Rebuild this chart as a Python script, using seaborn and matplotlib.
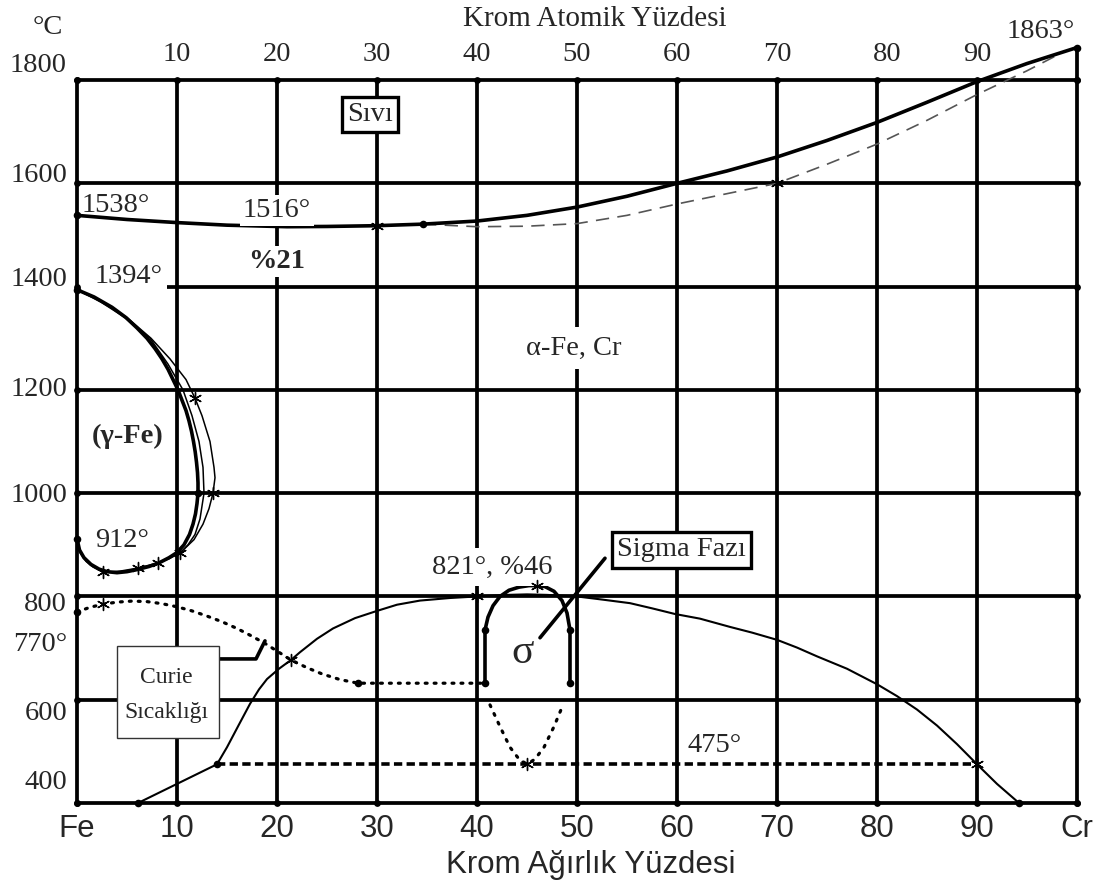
import numpy as np
import pandas as pd
import seaborn as sns
import matplotlib.pyplot as plt
from matplotlib.patches import Rectangle

# ---------------- data (weight % Cr, temperature °C) ----------------
wt_ticks = [0, 10, 20, 30, 40, 50, 60, 70, 80, 90, 100]
wt_labels = ["Fe", "10", "20", "30", "40", "50", "60", "70", "80", "90", "Cr"]
at_ticks = [10, 20, 30, 40, 50, 60, 70, 80, 90]
temp_ticks = [400, 600, 800, 1000, 1200, 1400, 1600, 1800]

# liquidus (solid) and solidus (dashed)
liq_x = [0, 5, 10, 15, 21, 25, 30, 34.6, 40, 45, 50, 55, 60, 65, 70, 75, 80, 85, 90, 95, 100]
liq_t = [1538, 1530, 1524, 1519, 1516, 1516.5, 1518, 1521, 1527, 1538, 1554, 1575, 1600,
         1624, 1651, 1683, 1718, 1757, 1797, 1832, 1863]
sol_x = [34.6, 40, 45, 50, 55, 60, 65, 70, 75, 80, 85, 90, 95, 98]
sol_t = [1521, 1516, 1517, 1522, 1538, 1560, 1580, 1600, 1637, 1676, 1722, 1772, 1818, 1848]

# gamma loop: inner (heavy) boundary
g_in_t = [1394, 1380, 1360, 1340, 1320, 1300, 1280, 1260, 1240, 1220, 1200, 1180, 1160,
          1140, 1120, 1100, 1080, 1060, 1040, 1020, 1000, 980, 960, 940, 920, 900, 885,
          875, 865, 858, 852, 848, 846, 848, 853, 862, 875, 890, 912]
g_in_x = [0, 1.7, 3.5, 4.9, 6.0, 7.0, 7.8, 8.5, 9.1, 9.6, 10.1, 10.5, 10.9, 11.2, 11.45,
          11.65, 11.82, 11.95, 12.05, 12.1, 12.1, 12.0, 11.85, 11.6, 11.25, 10.7, 10.0, 9.2,
          8.2, 7.2, 6.0, 5.0, 4.0, 3.0, 2.2, 1.4, 0.7, 0.25, 0]
# gamma loop: thin boundaries
g_mid_t = [1394, 1370, 1340, 1300, 1250, 1200, 1150, 1100, 1050, 1000, 950, 920, 900, 884]
g_mid_x = [0, 2.4, 4.8, 7.3, 9.1, 10.6, 11.5, 12.2, 12.6, 12.7, 12.3, 11.8, 11.1, 10.3]
g_out_t = [1394, 1370, 1340, 1300, 1260, 1220, 1184, 1150, 1100, 1050, 1030, 1000, 970,
           940, 910, 884, 873, 865, 855, 849, 847, 857, 868, 885, 912]
g_out_x = [0, 2.6, 5.0, 7.4, 9.3, 10.9, 11.8, 12.5, 13.3, 13.7, 13.8, 13.6, 13.2, 12.6,
           11.7, 10.3, 9.2, 8.1, 6.1, 4.3, 2.6, 1.6, 0.9, 0.3, 0]
g_star_x = [11.8, 13.6, 10.3, 8.1, 6.1, 2.6]
g_star_t = [1184, 1000, 884, 865, 855, 847]

# miscibility gap (alpha / alpha')
gap_x = [6.1, 14, 15, 16.2, 17.3, 18.2, 19, 20.2, 21.4, 22.3, 24, 25.6, 27.8, 30, 32, 34.3,
         37.3, 40, 43, 45, 47, 50, 52.5, 55.3, 57.5, 59.8, 62.3, 65.3, 67.5, 70, 72, 74, 77,
         80, 82, 84, 86, 88, 90, 92, 94.2]
gap_t = [400, 475, 508, 552, 592, 620, 640, 660, 677, 692, 718, 738, 758, 772, 784, 792,
         797, 800, 803, 804, 803, 800, 794, 787, 777, 766, 757, 741, 730, 716, 701, 684, 660,
         630, 607, 581, 550, 514, 475, 437, 400]
eut_x = [14, 90]
eut_t = [475, 475]

# Curie temperature (dotted)
cur_x = [0, 1.3, 2.6, 4, 5.5, 7, 8.5, 10, 11.5, 13, 14.5, 16, 17.4, 18.8, 20.1, 21.4, 23,
         24.5, 26.3, 28.1, 40.8]
cur_t = [770, 779, 785, 789, 791, 790, 786, 780, 772, 762, 751, 738, 724, 709, 693, 677,
         662, 650, 639, 632, 632]

# sigma phase field
sig_x = [40.8, 40.8, 41.1, 41.6, 42.3, 43.2, 44.2, 45.2, 46, 46.8, 47.7, 48.5, 49.0, 49.3, 49.3]
sig_t = [632, 735, 760, 782, 800, 812, 818, 821, 821, 819, 810, 792, 768, 735, 632]
sig_u_x = [41.3, 42.3, 43.3, 44.2, 45, 45.8, 46.7, 47.7, 48.6]
sig_u_t = [590, 548, 508, 485, 475, 485, 508, 548, 590]

dot_x = [0, 34.6, 0, 0, 12.1, 14, 6.1, 94.2, 0, 28.1, 40.8, 40.8, 49.3, 49.3, 100]
dot_t = [1538, 1521, 1394, 912, 1000, 475, 400, 400, 770, 632, 632, 735, 632, 735, 1863]
star_x = [30, 70, 21.4, 40, 90, 45, 46, 2.6]
star_t = [1518, 1600, 677, 800, 475, 475, 821, 785]

# ---------------- figure ----------------
sns.set_theme(style="white")
plt.rcParams["font.family"] = ["Liberation Serif", "DejaVu Serif"]
SANS = ["Liberation Sans", "DejaVu Sans"]

fig = plt.figure(figsize=(11.05, 8.89), dpi=100)
ax = fig.add_axes([77 / 1105, 86 / 889, 1000 / 1105, 788 / 889])
ax.set_xlim(0, 100)
ax.set_ylim(400, 1926)
ax.set_axis_off()

K = "black"
GRID_LW = 2.7

# grid frame
for t in temp_ticks:
    x0 = 9 if t == 1400 else 0
    ax.plot([x0, 100], [t, t], color=K, lw=GRID_LW, solid_capstyle="butt", zorder=1)
for w in wt_ticks:
    top = 1863 if w == 100 else 1800
    ax.plot([w, w], [400, top], color=K, lw=GRID_LW, solid_capstyle="butt", zorder=1)
edge_x = [0] * len(temp_ticks) + [100] * len(temp_ticks) + wt_ticks + wt_ticks
edge_t = temp_ticks + temp_ticks + [400] * len(wt_ticks) + [1800] * len(wt_ticks)
ax.scatter(edge_x, edge_t, s=24, color=K, zorder=2, linewidths=0)


def curve(x, t, color=K, **kw):
    sns.lineplot(x=x, y=t, sort=False, estimator=None, color=color, ax=ax,
                 legend=False, **kw)


curve(liq_x, liq_t, lw=2.6, zorder=4)
curve(sol_x, sol_t, color="#555555", lw=1.2, linestyle=(0, (8, 5)), zorder=3)
curve(g_in_x, g_in_t, lw=2.6, zorder=4)
curve(g_mid_x, g_mid_t, lw=1.1, zorder=4)
curve(g_out_x, g_out_t, lw=1.1, zorder=4)
curve(gap_x, gap_t, lw=1.5, zorder=4)
curve(eut_x, eut_t, lw=2.6, linestyle=(0, (2.3, 1.2)), zorder=4)
curve(cur_x, cur_t, lw=2.3, linestyle=(0, (0.6, 2.2)), dash_capstyle="round", zorder=4)
curve(sig_x, sig_t, lw=2.6, zorder=4)
curve(sig_u_x, sig_u_t, lw=2.3, linestyle=(0, (0.6, 2.4)), dash_capstyle="round", zorder=4)

# leader lines
ax.plot([52.8, 46.3], [874, 720], color=K, lw=2.6, zorder=4)
ax.plot([14.2, 17.9, 18.8], [679, 679, 714], color=K, lw=2.6, zorder=4)

ax.scatter(dot_x, dot_t, s=30, color=K, zorder=6, linewidths=0)
ax.scatter(star_x + g_star_x, star_t + g_star_t, s=75, marker=(6, 2, 0), color=K,
           linewidths=1.0, zorder=6)

for art in ax.lines + ax.collections:
    art.set_clip_on(False)

# axis labels and ticks
FS = 20.5
ax.text(-2.9, 1901, "°C", fontsize=FS, ha="center", va="center")
ylab_pos = [439, 574, 785, 996, 1200, 1413, 1616, 1829]
for t, p in zip(temp_ticks, ylab_pos):
    ax.text(-1.0, p, str(t), fontsize=FS, ha="right", va="center")
ax.text(-1.0, 706, "770°", fontsize=FS, ha="right", va="center")

for w in at_ticks:
    ax.text(w + (1 if w == 80 else 0), 1849, str(w), fontsize=FS, ha="center", va="center")
ax.text(51.8, 1918, "Krom Atomik Yüzdesi", fontsize=21, ha="center", va="center")
ax.text(99.8, 1895, "1863°", fontsize=FS, ha="right", va="center")

for w, lab in zip(wt_ticks, wt_labels):
    ax.text(w, 350, lab, fontsize=22.5, ha="center", va="center", family=SANS)
ax.text(51.4, 280, "Krom Ağırlık Yüzdesi", fontsize=22.5, ha="center", va="center",
        family=SANS)

# in-field labels
white = dict(facecolor="white", edgecolor="none", pad=2)
ax.text(0.5, 1558, "1538°", fontsize=FS, ha="left", va="center")
ax.text(20, 1548, "1516°", fontsize=FS, ha="center", va="center", bbox=white, zorder=5)
ax.text(20, 1448, "%21", fontsize=FS, ha="center", va="center", fontweight="bold",
        bbox=white, zorder=5)
ax.text(1.8, 1419, "1394°", fontsize=FS, ha="left", va="center")
ax.text(5.1, 1109, "(γ-Fe)", fontsize=FS, ha="center", va="center", fontweight="bold")
ax.text(1.8, 909, "912°", fontsize=FS, ha="left", va="center")
ax.text(49.7, 1281, "α-Fe, Cr", fontsize=FS, ha="center", va="center",
        bbox=dict(facecolor="white", edgecolor="none", pad=6), zorder=5)
ax.text(41.5, 857, "821°, %46", fontsize=FS, ha="center", va="center",
        bbox=dict(facecolor="white", edgecolor="none", pad=5), zorder=5)
ax.text(44.6, 690, "σ", fontsize=30, ha="center", va="center", zorder=5)
ax.text(63.8, 512, "475°", fontsize=FS, ha="center", va="center")

boxed = dict(boxstyle="square,pad=0.18", facecolor="white", edgecolor=K, linewidth=2.4)
ax.text(29.3, 1733, "Sıvı", fontsize=FS, ha="center", va="center", bbox=boxed, zorder=7)
ax.text(60.4, 890, "Sigma Fazı", fontsize=FS, ha="center", va="center", bbox=boxed, zorder=7)

ax.add_patch(Rectangle((4.0, 526), 10.2, 178, facecolor="white", edgecolor="#333333",
                       lw=1.0, zorder=7, clip_on=False))
ax.text(8.9, 644, "Curie", fontsize=17, ha="center", va="center", zorder=8)
ax.text(8.9, 576, "Sıcaklığı", fontsize=17, ha="center", va="center", zorder=8)

fig.savefig("out.png", dpi=100, facecolor="white")
